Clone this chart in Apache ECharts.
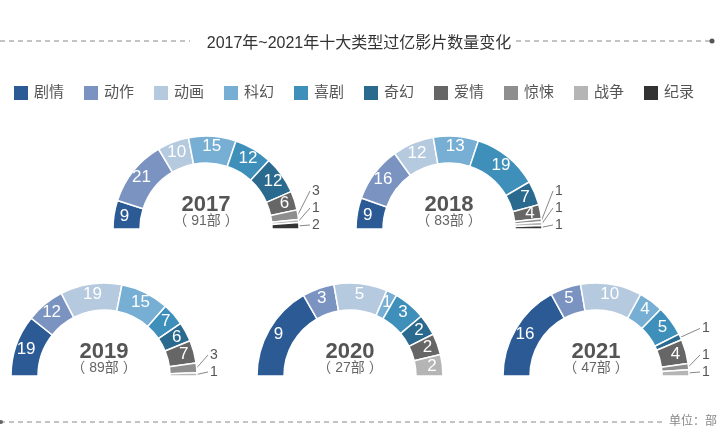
<!DOCTYPE html>
<html>
<head>
<meta charset="utf-8">
<script src="https://cdn.jsdelivr.net/npm/echarts@6/dist/echarts.min.js"></script>
<style>html,body{margin:0;padding:0;background:#fff;}#c{width:728px;height:438px;}</style>
</head>
<body>
<div id="c"></div>
<script>
var categories = ['剧情','动作','动画','科幻','喜剧','奇幻','爱情','惊悚','战争','纪录'];
var colors = ['#2B5A95','#7B93C0','#B5C9DF','#77AFD4','#3E90BB','#2A6A8F','#666666','#8E8E8E','#B5B5B5','#333333'];
var years = ['2017','2018','2019','2020','2021'];
var v2017 = [9,21,10,15,12,12,6,3,1,2];
var v2018 = [9,16,12,13,19,7,4,1,1,1];
var v2019 = [19,12,19,15,7,6,7,3,1,0];
var v2020 = [9,3,5,1,3,2,2,0,2,0];
var v2021 = [16,5,10,4,5,1,4,1,1,0];
var valuesByYear = [v2017, v2018, v2019, v2020, v2021];
var centers = [[206,229],[449,229],[104,376],[350,376],[596,376]];
var R_IN = 66, R_OUT = 93;

var FONT = '"Liberation Sans","Noto Sans CJK SC",sans-serif';
var chart = echarts.init(document.getElementById('c'));
var series = [];
var graphics = [];
var outsideInfo = [];
valuesByYear.forEach(function(vals, yi){
  var total = vals.reduce(function(a,b){return a+b;},0);
  var data = [];
  var outs = [];
  var cum = 0;
  vals.forEach(function(v, i){
    if (v <= 0) return;
    var ang = v / total * 180;
    var inside = ang >= 6.5;
    if (!inside) outs.push({di: data.length, mid: 180 - (cum + v/2) / total * 180});
    cum += v;
    data.push({
      name: categories[i], value: v,
      itemStyle: {color: colors[i]},
      label: inside ? {position:'inside', color:'#fff', fontSize:17} :
                      {position:'outside', color:'#555', fontSize:14},
      labelLine: {show: !inside}
    });
  });
  var info = {};
  outs.forEach(function(o, k){ info[o.di] = {rank: outs.length - 1 - k, mid: o.mid}; });
  outsideInfo.push(info);
  series.push({
    type:'pie', center: centers[yi], radius:[R_IN, R_OUT],
    startAngle:180, endAngle:0, clockwise:true,
    avoidLabelOverlap:false, silent:true, animation:false,
    itemStyle:{borderColor:'#fff', borderWidth:1.5},
    label:{show:true, formatter:'{c}', fontFamily:FONT},
    labelLine:{length:6, length2:8, lineStyle:{color:'#888', width:1}},
    labelLayout: (function(si){
      return function(p){
        var o = outsideInfo[si][p.dataIndex];
        if (!o) return {};
        var c = centers[si];
        var a = o.mid * Math.PI / 180;
        var sx = c[0] + (R_OUT - 1) * Math.cos(a), sy = c[1] - (R_OUT - 1) * Math.sin(a);
        var yNat = c[1] - (R_OUT + 20) * Math.sin(a);
        var y = Math.min(yNat, c[1] - 4 - o.rank * 17);
        var lx = c[0] + R_OUT + 13;
        return {x: lx, y: y, align:'left', verticalAlign:'middle',
          labelLinePoints: [[sx, sy], [sx + 1, sy], [lx - 2, y]]};
      };
    })(yi),
    data: data
  });
  graphics.push({type:'text', x:centers[yi][0], y:centers[yi][1]-24,
    style:{text:years[yi], font:'bold 22px '+FONT, fill:'#555', textAlign:'center', textVerticalAlign:'middle'}});
  graphics.push({type:'text', x:centers[yi][0], y:centers[yi][1]-8,
    style:{text:'（ '+total+'部 ）', font:'14px '+FONT, fill:'#666', textAlign:'center', textVerticalAlign:'middle'}});
});

graphics.push(
  {type:'line', shape:{x1:0,y1:41,x2:190,y2:41}, style:{stroke:'#888', lineWidth:1, lineDash:[5,4]}},
  {type:'line', shape:{x1:516,y1:41,x2:712,y2:41}, style:{stroke:'#888', lineWidth:1, lineDash:[5,4]}},
  {type:'circle', shape:{cx:712,cy:41,r:2.5}, style:{fill:'#555'}},
  {type:'line', shape:{x1:0,y1:422,x2:664,y2:422}, style:{stroke:'#888', lineWidth:1, lineDash:[5,4]}},
  {type:'circle', shape:{cx:1,cy:422,r:2}, style:{fill:'#666'}},
  {type:'text', x:669, y:416, style:{text:'单位：部', font:'12px '+FONT, fill:'#888'}}
);

chart.setOption({
  backgroundColor:'#fff',
  title:{text:'2017年~2021年十大类型过亿影片数量变化', left:354, top:31, textAlign:'center',
    textStyle:{fontSize:16, fontWeight:'normal', color:'#333', fontFamily:FONT}},
  legend:{data:categories, left:12, top:84, padding:0, icon:'rect', itemWidth:16, itemHeight:16, itemGap:18,
    textStyle:{fontSize:15, color:'#555', fontFamily:FONT}, selectedMode:false},
  series: series,
  graphic: graphics
});
</script>
</body>
</html>
